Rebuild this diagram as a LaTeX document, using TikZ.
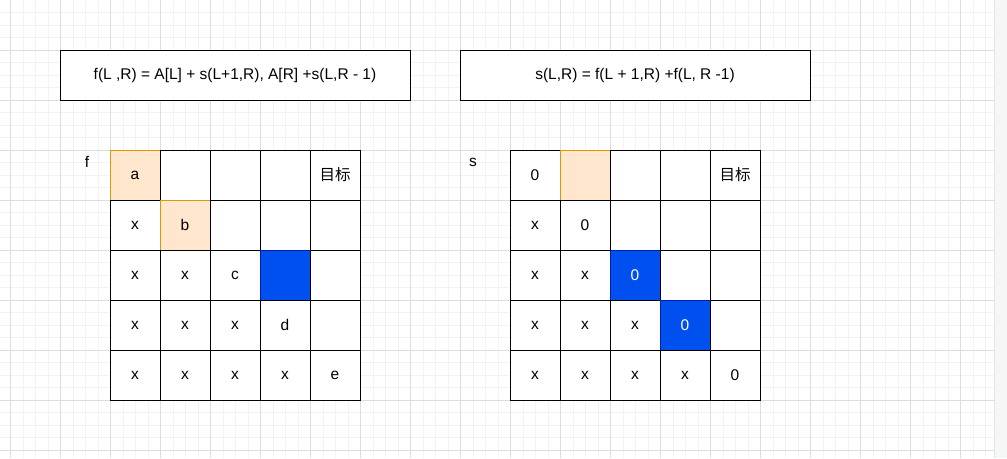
\documentclass[tikz,border=0pt]{standalone}
\usepackage{fontspec}
\setmainfont{Liberation Sans}
\newfontfamily\cjk{Noto Sans CJK SC}
\definecolor{gmaj}{HTML}{DDDDDD}
\definecolor{gmin}{HTML}{F3F3F3}
\definecolor{orfill}{HTML}{FFE6CC}
\definecolor{ordraw}{HTML}{D79B00}
\definecolor{blfill}{HTML}{0050EF}
\definecolor{bldraw}{HTML}{001DBC}
\definecolor{stripc}{HTML}{F5F6F7}
\definecolor{stripl}{HTML}{E4E4E4}
\tikzset{
  txt/.style={font=\fontsize{15.5}{18}\selectfont},
  cell/.style={draw=black, line width=1pt, minimum size=50pt, inner sep=0pt, fill=white, txt},
  ocell/.style={cell, draw=ordraw, fill=orfill},
  bcell/.style={cell, draw=bldraw, fill=blfill, text=white},
  fbox/.style={draw=black, line width=1pt, minimum width=350pt, minimum height=50pt, inner sep=0pt, fill=white, txt},
  lbl/.style={inner sep=0pt, txt}
}
\begin{document}
\begin{tikzpicture}[x=1pt,y=-1pt]
\useasboundingbox (0,0) rectangle (1007,458);
\fill[white] (0,0) rectangle (1007,458);
% background grid
\foreach \i in {0,...,79} \draw[gmin,line width=1pt] ({-2+12.5*\i},0) -- ({-2+12.5*\i},458);
\foreach \j in {1,...,36} \draw[gmin,line width=1pt] (0,{12.5*\j}) -- (994,{12.5*\j});
\foreach \i in {0,...,19} \draw[gmaj,line width=1pt] ({10.5+50*\i},0) -- ({10.5+50*\i},458);
\foreach \j in {1,...,9} \draw[gmaj,line width=1pt] (0,{50*\j}) -- (994,{50*\j});
\fill[stripc] (994,0) rectangle (1007,458);
\draw[stripl,line width=0.8pt] (994,0) -- (994,458);
% formula boxes
\node[fbox] (fb) at (235,75) {f(L ,R) = A[L] + s(L+1,R), A[R] +s(L,R - 1)};
\node[fbox] (sb) at (635,75) {s(L,R) = f(L + 1,R) +f(L, R -1)};
% labels
\node[lbl] (fl) at (87,162) {f};
\node[lbl] (sl) at (473,162) {s};
% f table
\node[ocell] (f00) at (135,175) {a};
\node[cell] (f01) at (185,175) {};
\node[cell] (f02) at (235,175) {};
\node[cell] (f03) at (285,175) {};
\node[cell] (f04) at (335,175) {\cjk 目标};
\node[cell] (f10) at (135,225) {x};
\node[ocell] (f11) at (185,225) {b};
\node[cell] (f12) at (235,225) {};
\node[cell] (f13) at (285,225) {};
\node[cell] (f14) at (335,225) {};
\node[cell] (f20) at (135,275) {x};
\node[cell] (f21) at (185,275) {x};
\node[cell] (f22) at (235,275) {c};
\node[bcell] (f23) at (285,275) {};
\node[cell] (f24) at (335,275) {};
\node[cell] (f30) at (135,325) {x};
\node[cell] (f31) at (185,325) {x};
\node[cell] (f32) at (235,325) {x};
\node[cell] (f33) at (285,325) {d};
\node[cell] (f34) at (335,325) {};
\node[cell] (f40) at (135,375) {x};
\node[cell] (f41) at (185,375) {x};
\node[cell] (f42) at (235,375) {x};
\node[cell] (f43) at (285,375) {x};
\node[cell] (f44) at (335,375) {e};
% s table
\node[cell] (s00) at (535,175) {0};
\node[ocell] (s01) at (585,175) {};
\node[cell] (s02) at (635,175) {};
\node[cell] (s03) at (685,175) {};
\node[cell] (s04) at (735,175) {\cjk 目标};
\node[cell] (s10) at (535,225) {x};
\node[cell] (s11) at (585,225) {0};
\node[cell] (s12) at (635,225) {};
\node[cell] (s13) at (685,225) {};
\node[cell] (s14) at (735,225) {};
\node[cell] (s20) at (535,275) {x};
\node[cell] (s21) at (585,275) {x};
\node[bcell] (s22) at (635,275) {0};
\node[cell] (s23) at (685,275) {};
\node[cell] (s24) at (735,275) {};
\node[cell] (s30) at (535,325) {x};
\node[cell] (s31) at (585,325) {x};
\node[cell] (s32) at (635,325) {x};
\node[bcell] (s33) at (685,325) {0};
\node[cell] (s34) at (735,325) {};
\node[cell] (s40) at (535,375) {x};
\node[cell] (s41) at (585,375) {x};
\node[cell] (s42) at (635,375) {x};
\node[cell] (s43) at (685,375) {x};
\node[cell] (s44) at (735,375) {0};
\end{tikzpicture}
\end{document}
